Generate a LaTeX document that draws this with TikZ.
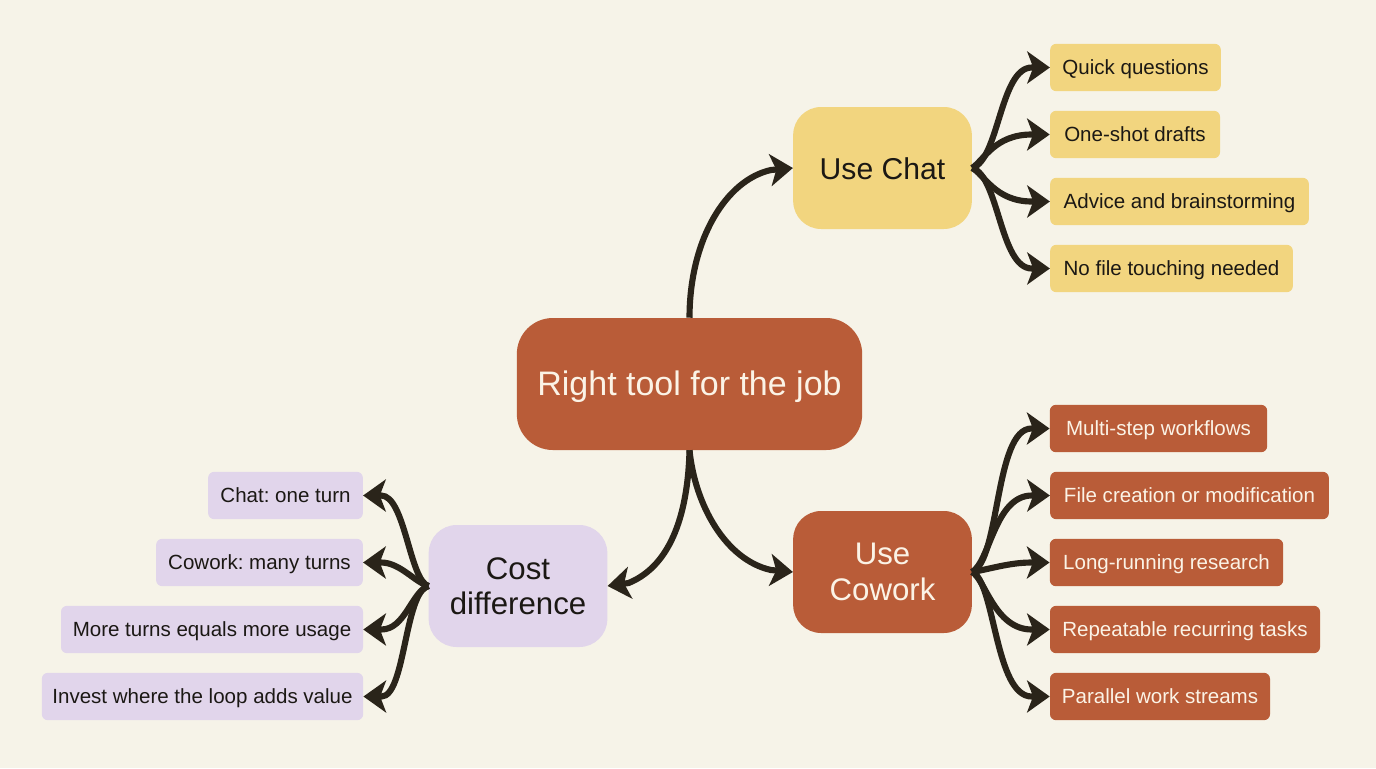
\documentclass[tikz,border=0pt]{standalone}
\usepackage{fontspec}
\setmainfont{Liberation Sans}
\usetikzlibrary{arrows.meta,calc}
\frenchspacing
\definecolor{paper}{HTML}{F6F3E8}
\definecolor{rust}{HTML}{B95C38}
\definecolor{butter}{HTML}{F2D57F}
\definecolor{lilac}{HTML}{E1D5EB}
\definecolor{ink}{HTML}{2A241A}
\definecolor{txt}{HTML}{1B1814}
\definecolor{cream}{HTML}{FBF3E6}
\tikzset{
  x=0.75pt,y=-0.75pt,
  hub/.style={rounded corners=21pt,inner sep=0pt,align=center,font=\fontsize{23.4}{26.5}\selectfont,text=txt,minimum height=91.5pt,minimum width=134pt},
  leaf/.style={rounded corners=4.5pt,inner sep=0pt,font=\fontsize{15.4}{18}\selectfont,text=txt,minimum height=35.5pt,text height=12.6pt,text depth=2pt},
  trunk/.style={draw=ink,line width=4.6pt,-{Stealth[length=17pt,width=24pt,inset=4.5pt,fill=ink]}},
  twig/.style={draw=ink,line width=4.6pt,-{Stealth[length=17pt,width=24pt,inset=4.5pt,fill=ink]}},
}
\begin{document}
\begin{tikzpicture}
\fill[paper] (0,0) rectangle (1376,768);
\useasboundingbox (0,0) rectangle (1376,768);
% main nodes
\node[hub,fill=rust,text=cream,minimum width=259pt,minimum height=99pt,rounded corners=27pt,font=\fontsize{25.5}{28}\selectfont,text height=21pt,text depth=3.4pt] (root) at (689.5,384) {Right tool for the job};
\node[hub,fill=butter,font=\fontsize{22.6}{26.5}\selectfont,text height=19pt,text depth=2.4pt] (chat) at (882.5,168) {Use Chat};
\node[hub,fill=rust,text=cream] (cowork) at (882.5,572) {Use\\Cowork};
\node[hub,fill=lilac] (cost) at (518,586) {Cost\\difference};
% chat leaves
\node[leaf,fill=butter,minimum width=128pt] (c1) at (1135.5,67.5) {Quick questions};
\node[leaf,fill=butter,minimum width=127.5pt] (c2) at (1135,134.5) {One-shot drafts};
\node[leaf,fill=butter,minimum width=194pt] (c3) at (1179.5,201.5) {Advice and brainstorming};
\node[leaf,fill=butter,minimum width=182pt] (c4) at (1171.5,268.5) {No file touching needed};
% cowork leaves
\node[leaf,fill=rust,text=cream,minimum width=163pt] (w1) at (1158.5,428.5) {Multi-step workflows};
\node[leaf,fill=rust,text=cream,minimum width=209pt] (w2) at (1189.5,495.5) {File creation or modification};
\node[leaf,fill=rust,text=cream,minimum width=175pt] (w3) at (1166.5,562.5) {Long-running research};
\node[leaf,fill=rust,text=cream,minimum width=202.5pt] (w4) at (1185,629.5) {Repeatable recurring tasks};
\node[leaf,fill=rust,text=cream,minimum width=165pt] (w5) at (1160,696.5) {Parallel work streams};
% cost leaves
\node[leaf,fill=lilac,minimum width=116pt] (d1) at (285.5,495.5) {Chat: one turn};
\node[leaf,fill=lilac,minimum width=155pt] (d2) at (259.5,562.5) {Cowork: many turns};
\node[leaf,fill=lilac,minimum width=226.5pt] (d3) at (212,629.5) {More turns equals more usage};
\node[leaf,fill=lilac,minimum width=241pt] (d4) at (202.5,696.5) {Invest where the loop adds value};
% trunks
\draw[trunk] (root.north) .. controls +(0,-78) and +(-45,10) .. ($(chat.west)+(-22,2)$) -- (chat.west);
\draw[trunk] (root.south) .. controls +(5.5,55) and +(-45,-10) .. ($(cowork.west)+(-22,-2)$) -- (cowork.west);
\draw[trunk] (root.south) .. controls +(-1.5,60) and +(44,-18) .. ($(cost.east)+(21,-3)$) -- (cost.east);
% chat twigs
\draw[twig] (chat.east) .. controls +(27,-8) and +(-32,0) .. ($(c1.west)+(-18,0)$) -- (c1.west);
\draw[twig] (chat.east) .. controls +(12,-8) and +(-37,0) .. ($(c2.west)+(-18,0)$) -- (c2.west);
\draw[twig] (chat.east) .. controls +(12,6) and +(-37,0) .. ($(c3.west)+(-18,0)$) -- (c3.west);
\draw[twig] (chat.east) .. controls +(27,8) and +(-32,0) .. ($(c4.west)+(-18,0)$) -- (c4.west);
% cowork twigs
\draw[twig] (cowork.east) .. controls +(28,-11) and +(-37,0) .. ($(w1.west)+(-18,0)$) -- (w1.west);
\draw[twig] (cowork.east) .. controls +(18,-11) and +(-37,0) .. ($(w2.west)+(-18,0)$) -- (w2.west);
\draw[twig] (cowork.east) .. controls +(18,-3) and +(-22,0) .. ($(w3.west)+(-18,0)$) -- (w3.west);
\draw[twig] (cowork.east) .. controls +(13,7) and +(-37,0) .. ($(w4.west)+(-18,0)$) -- (w4.west);
\draw[twig] (cowork.east) .. controls +(23,9) and +(-37,0) .. ($(w5.west)+(-18,0)$) -- (w5.west);
% cost twigs
\draw[twig] (cost.west) .. controls +(-19,-6) and +(24,0) .. ($(d1.east)+(18,0)$) -- (d1.east);
\draw[twig] (cost.west) .. controls +(-14,-4) and +(19,0) .. ($(d2.east)+(18,0)$) -- (d2.east);
\draw[twig] (cost.west) .. controls +(-17,6) and +(24,0) .. ($(d3.east)+(18,0)$) -- (d3.east);
\draw[twig] (cost.west) .. controls +(-24,6) and +(24,0) .. ($(d4.east)+(18,0)$) -- (d4.east);
\end{tikzpicture}
\end{document}
